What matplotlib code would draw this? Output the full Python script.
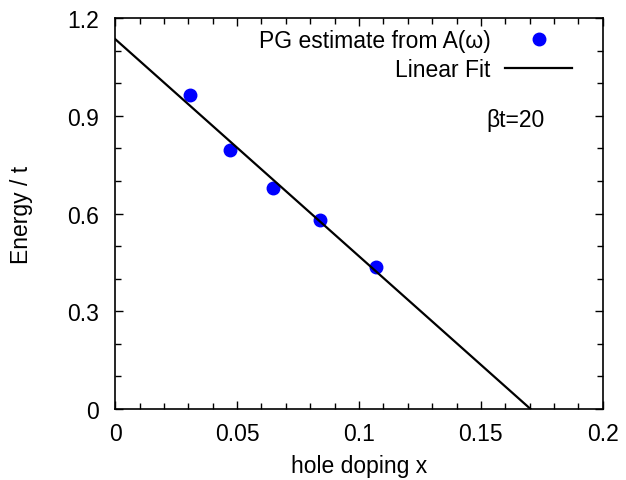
import numpy as np
import matplotlib
matplotlib.use("Agg")
import matplotlib.pyplot as plt
from matplotlib.ticker import MultipleLocator

plt.rcParams['font.family'] = ['Liberation Sans', 'DejaVu Sans']

# PG estimates
doping = [0.0307, 0.0471, 0.0648, 0.0840, 0.1070]
energy = [0.964, 0.795, 0.678, 0.580, 0.436]

xticks = [0, 0.05, 0.1, 0.15, 0.2]
xtick_labels = ['0', '0.05', '0.1', '0.15', '0.2']
yticks = [0, 0.3, 0.6, 0.9, 1.2]
ytick_labels = ['0', '0.3', '0.6', '0.9', '1.2']

# linear fit through the points, drawn until it hits zero
slope, icept = np.polyfit(doping, energy, 1)
x_fit = np.linspace(0, -icept / slope, 50)
y_fit = icept + slope * x_fit

fs = 16.5

fig = plt.figure(figsize=(6.26, 4.81), dpi=100)
ax = fig.add_axes([0.184, 0.1476, 0.779, 0.8129])

ax.plot(doping, energy, 'o', color='#0000ff', markersize=9, label='PG estimate from A(ω)')
ax.plot(x_fit, y_fit, '-', color='black', linewidth=1.6, label='Linear Fit')

ax.set_xlim(0, 0.2)
ax.set_ylim(0, 1.2)
ax.set_xticks(xticks)
ax.set_xticklabels(xtick_labels)
ax.set_yticks(yticks)
ax.set_yticklabels(ytick_labels)
ax.xaxis.set_minor_locator(MultipleLocator(0.01))
ax.yaxis.set_minor_locator(MultipleLocator(0.1))
ax.tick_params(which='both', direction='in', top=True, right=True, labelsize=fs)
ax.tick_params(axis='x', pad=9)
ax.tick_params(axis='y', pad=12)
ax.tick_params(which='major', length=6, width=1)
ax.tick_params(which='minor', length=4, width=1)
for s in ax.spines.values():
    s.set_linewidth(1.2)

ax.set_xlabel('hole doping x', fontsize=fs, labelpad=7)
ax.set_ylabel('Energy / t', fontsize=fs, labelpad=24)

ax.text(0.164, 0.89, 'βt=20', fontsize=fs, ha='center', va='center')

leg = ax.legend(loc='upper right', frameon=False, markerfirst=False, fontsize=fs,
                handlelength=2.9, handletextpad=0.65, labelspacing=0.25,
                borderaxespad=0.3, borderpad=0.2,
                bbox_to_anchor=(0.96, 1.0))

fig.savefig('out.png', dpi=100)
